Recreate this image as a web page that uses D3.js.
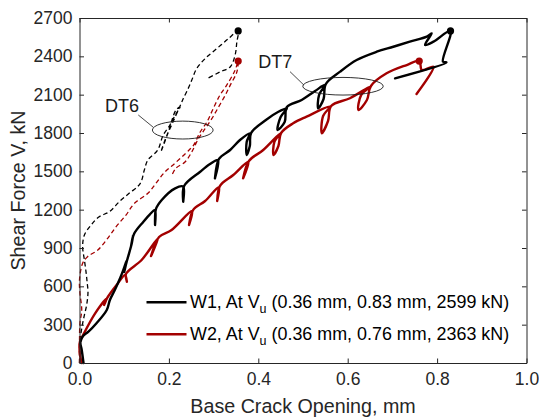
<!DOCTYPE html>
<html>
<head>
<meta charset="utf-8">
<script src="https://cdn.jsdelivr.net/npm/d3@7"></script>
<style>
  body { margin: 0; background: #fff; }
  svg { font-family: "Liberation Sans", Arial, Helvetica, sans-serif; }
</style>
</head>
<body>
<svg id="chart" width="539" height="419"></svg>
<script>
// axis ticks
const xTicks = [0, 0.2, 0.4, 0.6, 0.8, 1.0];
const yTicks = [0, 300, 600, 900, 1200, 1500, 1800, 2100, 2400, 2700];

// W1, DT7 (solid black) - [crack opening mm, shear kN]
const w1DT7 = [
  [0.009, 0], [0.005, 102], [0.002, 164], [0.008, 211], [0.020, 245], [0.038, 311],
  [0.061, 415], [0.068, 493], [0.079, 571], [0.091, 665], [0.098, 728], [0.106, 806],
  [0.100, 712], [0.106, 798], [0.117, 937], [0.120, 1002], [0.115, 908], [0.122, 1010],
  [0.143, 1106], [0.158, 1166], [0.169, 1197], [0.169, 1080], [0.171, 1205],
  [0.184, 1276], [0.214, 1367], [0.232, 1380], [0.232, 1262], [0.234, 1385],
  [0.270, 1497], [0.292, 1557], [0.310, 1589], [0.303, 1445], [0.312, 1597],
  [0.337, 1667], [0.359, 1745], [0.381, 1798], [0.374, 1730], [0.374, 1628],
  [0.381, 1698], [0.384, 1800],
  [0.417, 1902], [0.444, 1964], [0.464, 1993], [0.450, 1925], [0.443, 1823],
  [0.459, 1886], [0.464, 2003],
  [0.497, 2058], [0.527, 2129], [0.549, 2176], [0.536, 2098], [0.534, 1993],
  [0.546, 2066], [0.551, 2183],
  [0.583, 2280], [0.620, 2371], [0.665, 2436], [0.702, 2475], [0.739, 2515],
  [0.777, 2554], [0.788, 2580], [0.773, 2489], [0.792, 2515], [0.83, 2599],
  [0.813, 2358], [0.821, 2352], [0.706, 2228]
];

// W2, DT7 (solid red)
const w2DT7 = [
  [0.005, 0], [0.001, 63], [0.000, 115], [0.001, 167], [0.008, 219], [0.035, 389],
  [0.061, 506], [0.055, 454], [0.062, 509], [0.083, 610], [0.102, 689], [0.106, 636],
  [0.104, 697], [0.139, 806], [0.176, 978], [0.160, 837], [0.178, 986], [0.206, 1041],
  [0.252, 1190], [0.245, 1080], [0.254, 1197], [0.281, 1268], [0.312, 1377],
  [0.308, 1268], [0.314, 1385], [0.344, 1471], [0.378, 1575], [0.366, 1445],
  [0.379, 1581], [0.411, 1667], [0.449, 1798], [0.436, 1730], [0.434, 1628],
  [0.445, 1698], [0.451, 1800],
  [0.478, 1876], [0.508, 1928], [0.560, 2006], [0.545, 1933], [0.542, 1798],
  [0.556, 1894], [0.563, 2011],
  [0.605, 2072], [0.650, 2162], [0.630, 2097], [0.624, 1980], [0.643, 2058],
  [0.652, 2168], [0.687, 2267],
  [0.732, 2332], [0.76, 2363], [0.766, 2293], [0.792, 2319], [0.754, 2105]
];

// W1, DT6 (dashed black)
const w1DT6 = [
  [0, 0], [0.001, 102], [0.002, 196], [0.006, 290], [0.011, 376], [0.016, 454],
  [0.019, 556], [0.017, 634], [0.015, 702], [0.011, 806], [0.007, 910], [0.011, 1002],
  [0.026, 1080], [0.044, 1145], [0.067, 1184], [0.089, 1262], [0.111, 1328],
  [0.130, 1380], [0.138, 1419], [0.145, 1510], [0.153, 1589], [0.175, 1667],
  [0.187, 1782], [0.202, 1860], [0.214, 1939], [0.225, 2003], [0.216, 1980],
  [0.198, 1800], [0.182, 1651], [0.194, 1769], [0.207, 1870], [0.227, 2027],
  [0.232, 2068], [0.243, 2147], [0.251, 2212], [0.262, 2303], [0.281, 2382],
  [0.307, 2460], [0.333, 2538], [0.355, 2599], [0.352, 2512], [0.348, 2408],
  [0.337, 2317], [0.314, 2277], [0.288, 2230]
];

// W2, DT6 (dashed red)
const w2DT6 = [
  [0, 0], [0, 157], [0.001, 313], [0.005, 415], [0.001, 548], [0, 650],
  [0.007, 780], [0.018, 832], [0.041, 884], [0.063, 976], [0.082, 1067],
  [0.104, 1158], [0.123, 1250], [0.153, 1328], [0.171, 1406], [0.191, 1495],
  [0.214, 1565], [0.238, 1643], [0.255, 1704], [0.270, 1808], [0.285, 1886],
  [0.299, 1990], [0.314, 2095], [0.329, 2173], [0.348, 2291], [0.355, 2363],
  [0.352, 2277], [0.337, 2173], [0.326, 2095], [0.311, 2003], [0.296, 1912],
  [0.281, 1834], [0.266, 1755], [0.251, 1651], [0.236, 1573], [0.216, 1526],
  [0.207, 1471]
];

// peaks (Vu)
const peaks = [
  { x: 0.355, y: 2599, color: "#000000" },
  { x: 0.355, y: 2363, color: "#a30000" },
  { x: 0.83, y: 2599, color: "#000000" },
  { x: 0.76, y: 2363, color: "#a30000" }
];

// annotations: label position, ellipse centre / radii, leader line
const notes = [
  { label: "DT6", lx: 0.095, ly: 1968, cx: 0.231, cy: 1823, rx: 0.068, ry: 70,
    x1: 0.1315, y1: 1941, x2: 0.165, y2: 1845 },
  { label: "DT7", lx: 0.438, ly: 2306, cx: 0.5895, cy: 2166, rx: 0.090, ry: 69,
    x1: 0.471, y1: 2280, x2: 0.502, y2: 2175 }
];

const legendItems = [
  { name: "W1, At V", sub: "u", rest: " (0.36 mm, 0.83 mm, 2599 kN)", color: "#000000" },
  { name: "W2, At V", sub: "u", rest: " (0.36 mm, 0.76 mm, 2363 kN)", color: "#a30000" }
];

const red = "#a30000";
const axisColor = "#262626";

const svg = d3.select("#chart");
const mLeft = 79.5, mRight = 526.5, mTop = 18, mBottom = 363;

const x = d3.scaleLinear().domain([0, 1]).range([mLeft, mRight]);
const y = d3.scaleLinear().domain([0, 2700]).range([mBottom, mTop]);

// curves
const line = d3.line()
  .x(d => x(d[0])).y(d => y(d[1]))
  .curve(d3.curveCatmullRom.alpha(0.5));

const series = [
  { data: w1DT6, color: "#000000", dash: "4.5,3", width: 1.3 },
  { data: w2DT6, color: red, dash: "4.5,3", width: 1.3 },
  { data: w2DT7, color: red, dash: null, width: 2.4 },
  { data: w1DT7, color: "#000000", dash: null, width: 2.4 }
];

svg.selectAll(".curve")
  .data(series)
  .enter().append("path")
  .attr("class", "curve")
  .attr("d", d => line(d.data))
  .attr("fill", "none")
  .attr("stroke", d => d.color)
  .attr("stroke-width", d => d.width)
  .attr("stroke-dasharray", d => d.dash)
  .attr("stroke-linejoin", "round")
  .attr("stroke-linecap", d => d.dash ? "butt" : "round");

svg.selectAll(".peak")
  .data(peaks)
  .enter().append("circle")
  .attr("cx", d => x(d.x))
  .attr("cy", d => y(d.y))
  .attr("r", 3.6)
  .attr("fill", d => d.color);

// annotations
const note = svg.selectAll(".note")
  .data(notes)
  .enter().append("g");

note.append("ellipse")
  .attr("cx", d => x(d.cx))
  .attr("cy", d => y(d.cy))
  .attr("rx", d => x(d.rx) - x(0))
  .attr("ry", d => y(0) - y(d.ry))
  .attr("fill", "none")
  .attr("stroke", "#1a1a1a")
  .attr("stroke-width", 0.9);

note.append("line")
  .attr("x1", d => x(d.x1)).attr("y1", d => y(d.y1))
  .attr("x2", d => x(d.x2)).attr("y2", d => y(d.y2))
  .attr("stroke", "#1a1a1a")
  .attr("stroke-width", 0.8);

note.append("text")
  .attr("x", d => x(d.lx))
  .attr("y", d => y(d.ly))
  .attr("text-anchor", "middle")
  .attr("font-size", 18)
  .attr("fill", "#1a1a1a")
  .text(d => d.label);

// axes (ticks inside, MATLAB style)
function styleAxis(g) {
  g.select(".domain").attr("stroke", axisColor);
  g.selectAll(".tick line").attr("stroke", axisColor);
  g.selectAll(".tick text").attr("fill", axisColor).attr("font-size", 17.5)
    .attr("font-family", '"Liberation Sans", Arial, sans-serif');
}

svg.append("g")
  .attr("transform", `translate(0,${mBottom})`)
  .call(d3.axisBottom(x).tickValues(xTicks).tickFormat(d3.format(".1f"))
    .tickSize(-4.5).tickSizeOuter(0).tickPadding(10))
  .call(styleAxis);

svg.append("g")
  .attr("transform", `translate(0,${mTop})`)
  .call(d3.axisTop(x).tickValues(xTicks).tickFormat("").tickSize(-4.5).tickSizeOuter(0))
  .call(styleAxis);

svg.append("g")
  .attr("transform", `translate(${mLeft},0)`)
  .call(d3.axisLeft(y).tickValues(yTicks).tickFormat(d3.format("d"))
    .tickSize(-4.5).tickSizeOuter(0).tickPadding(7))
  .call(styleAxis);

svg.append("g")
  .attr("transform", `translate(${mRight},0)`)
  .call(d3.axisRight(y).tickValues(yTicks).tickFormat("").tickSize(-4.5).tickSizeOuter(0))
  .call(styleAxis);

// axis titles
svg.append("text")
  .attr("x", (mLeft + mRight) / 2)
  .attr("y", 413)
  .attr("text-anchor", "middle")
  .attr("font-size", 19.7)
  .attr("fill", axisColor)
  .text("Base Crack Opening, mm");

svg.append("text")
  .attr("transform", `translate(25,${(mTop + mBottom) / 2}) rotate(-90)`)
  .attr("text-anchor", "middle")
  .attr("font-size", 19.7)
  .attr("fill", axisColor)
  .text("Shear Force V, kN");

// legend
const legend = svg.selectAll(".legend")
  .data(legendItems)
  .enter().append("g")
  .attr("transform", (d, i) => `translate(146.5,${302.3 + i * 32})`);

legend.append("line")
  .attr("x1", 0).attr("x2", 40)
  .attr("stroke", d => d.color)
  .attr("stroke-width", 2.4);

const lt = legend.append("text")
  .attr("x", 43.5)
  .attr("y", 5.8)
  .attr("font-size", 17.9)
  .attr("fill", "#000");
lt.append("tspan").text(d => d.name);
lt.append("tspan").attr("dy", 5).attr("font-size", 12.5).text(d => d.sub);
lt.append("tspan").attr("dy", -5).text(d => d.rest);
</script>
</body>
</html>
